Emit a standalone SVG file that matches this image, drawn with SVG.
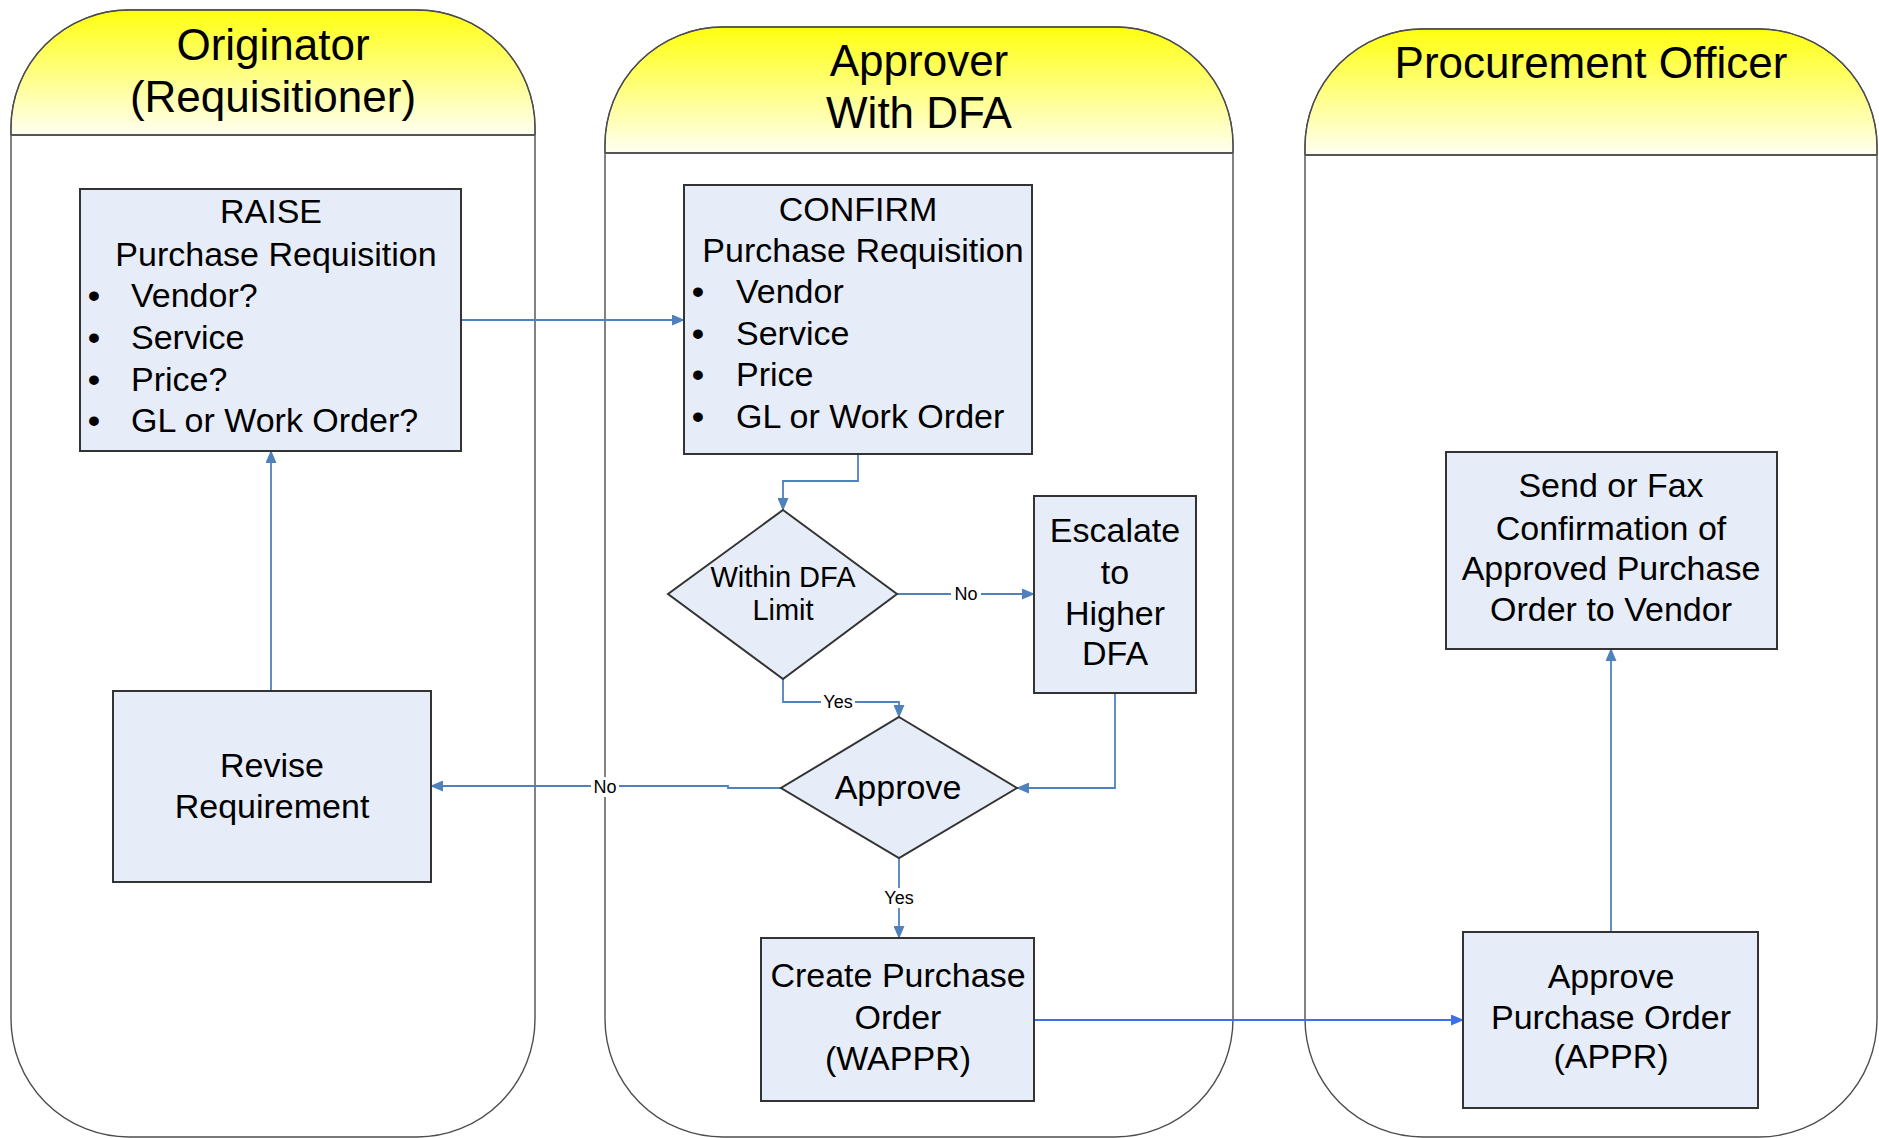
<svg xmlns="http://www.w3.org/2000/svg" width="1879" height="1138" viewBox="0 0 1879 1138">
<defs>
<linearGradient id="hdr" x1="0" y1="0" x2="0" y2="1">
<stop offset="0" stop-color="#FFFF10"/>
<stop offset="1" stop-color="#FFFFF2"/>
</linearGradient>
<marker id="arr" markerUnits="userSpaceOnUse" markerWidth="13" markerHeight="11" refX="12" refY="5.5" orient="auto">
<path d="M0,0 L13,5.5 L0,11 z" fill="#4F81BD"/>
</marker>
<marker id="arr2" markerUnits="userSpaceOnUse" markerWidth="13" markerHeight="11" refX="12" refY="5.5" orient="auto">
<path d="M0,0 L13,5.5 L0,11 z" fill="#3F6FE8"/>
</marker>
<style>
.lane{fill:#FFFFFF;stroke:#4d4d4d;stroke-width:1.4}
.hdr{fill:url(#hdr);stroke:none}
.hline{stroke:#555;stroke-width:2;fill:none}
.box{fill:#E7EDF8;stroke:#333;stroke-width:2}
.t{font-family:"Liberation Sans",Arial,sans-serif;fill:#000}
.ht{font-size:44px;text-anchor:middle}
.bt{font-size:34px}
.c{text-anchor:middle}
.bul{font-weight:bold}
.dt{font-size:29px;text-anchor:middle}
.lbl{font-family:"Liberation Sans",Arial,sans-serif;font-size:18px;text-anchor:middle;fill:#000}
.con{fill:none;stroke:#4F81BD;stroke-width:1.8;marker-end:url(#arr)}
.con2{fill:none;stroke:#3F6FE8;stroke-width:1.8;marker-end:url(#arr2)}
.lbg{fill:#FFFFFF}
</style>
</defs>
<rect width="1879" height="1138" fill="#FFFFFF"/>

<g id="lane-originator">
<path class="lane" d="M11,128 A118,118 0 0 1 129,10 L417,10 A118,118 0 0 1 535,128 L535,1019 A118,118 0 0 1 417,1137 L129,1137 A118,118 0 0 1 11,1019 Z"/>
<path class="hdr" d="M11.7,135 L11.7,128 A117.3,117.3 0 0 1 129,10.7 L417,10.7 A117.3,117.3 0 0 1 534.3,128 L534.3,135 Z"/>
<path class="lane" style="fill:none" d="M11,135 L11,128 A118,118 0 0 1 129,10 L417,10 A118,118 0 0 1 535,128 L535,135"/>
<line class="hline" x1="11" y1="135" x2="535" y2="135"/>
<text class="t ht" x="273" y="60">Originator</text>
<text class="t ht" x="273" y="112">(Requisitioner)</text>
</g>

<g id="lane-approver">
<path class="lane" d="M605,145 A118,118 0 0 1 723,27 L1115,27 A118,118 0 0 1 1233,145 L1233,1019 A118,118 0 0 1 1115,1137 L723,1137 A118,118 0 0 1 605,1019 Z"/>
<path class="hdr" d="M605.7,153 L605.7,145 A117.3,117.3 0 0 1 723,27.7 L1115,27.7 A117.3,117.3 0 0 1 1232.3,145 L1232.3,153 Z"/>
<path class="lane" style="fill:none" d="M605,153 L605,145 A118,118 0 0 1 723,27 L1115,27 A118,118 0 0 1 1233,145 L1233,153"/>
<line class="hline" x1="605" y1="153" x2="1233" y2="153"/>
<text class="t ht" x="919" y="76">Approver</text>
<text class="t ht" x="919" y="128">With DFA</text>
</g>

<g id="lane-procurement">
<path class="lane" d="M1305,147 A118,118 0 0 1 1423,29 L1759,29 A118,118 0 0 1 1877,147 L1877,1019 A118,118 0 0 1 1759,1137 L1423,1137 A118,118 0 0 1 1305,1019 Z"/>
<path class="hdr" d="M1305.7,155 L1305.7,147 A117.3,117.3 0 0 1 1423,29.7 L1759,29.7 A117.3,117.3 0 0 1 1876.3,147 L1876.3,155 Z"/>
<path class="lane" style="fill:none" d="M1305,155 L1305,147 A118,118 0 0 1 1423,29 L1759,29 A118,118 0 0 1 1877,147 L1877,155"/>
<line class="hline" x1="1305" y1="155" x2="1877" y2="155"/>
<text class="t ht" x="1591" y="78">Procurement Officer</text>
</g>

<g id="connectors">
<path class="con" d="M461,320 L684,320"/>
<path class="con" d="M858,454 L858,481 L783,481 L783,510"/>
<path class="con" d="M897,594 L1034,594"/>
<path class="con" d="M783,679 L783,702 L899,702 L899,717"/>
<path class="con" d="M1115,693 L1115,788 L1017,788"/>
<path class="con" d="M781,788 L728,788 L728,786 L431,786"/>
<path class="con" d="M271,691 L271,451"/>
<path class="con" d="M899,858 L899,938"/>
<path class="con2" d="M1034,1020 L1463,1020"/>
<path class="con" d="M1611,932 L1611,649"/>
</g>

<g id="connector-labels">
<rect class="lbg" x="951" y="584" width="30" height="20"/>
<text class="lbl" x="966" y="600">No</text>
<rect class="lbg" x="821" y="692" width="34" height="20"/>
<text class="lbl" x="838" y="708">Yes</text>
<rect class="lbg" x="591" y="777" width="28" height="20"/>
<text class="lbl" x="605" y="793">No</text>
<rect class="lbg" x="882" y="888" width="34" height="20"/>
<text class="lbl" x="899" y="904">Yes</text>
</g>

<g id="node-raise">
<rect class="box" x="80" y="189" width="381" height="262"/>
<text class="t bt c" x="271" y="223">RAISE</text>
<text class="t bt c" x="276" y="266">Purchase Requisition</text>
<text class="t bt" y="307"><tspan class="bul" x="88">•</tspan><tspan x="131">Vendor?</tspan></text>
<text class="t bt" y="349"><tspan class="bul" x="88">•</tspan><tspan x="131">Service</tspan></text>
<text class="t bt" y="391"><tspan class="bul" x="88">•</tspan><tspan x="131">Price?</tspan></text>
<text class="t bt" y="432"><tspan class="bul" x="88">•</tspan><tspan x="131">GL or Work Order?</tspan></text>
</g>

<g id="node-confirm">
<rect class="box" x="684" y="185" width="348" height="269"/>
<text class="t bt c" x="858" y="221">CONFIRM</text>
<text class="t bt c" x="863" y="262">Purchase Requisition</text>
<text class="t bt" y="303"><tspan class="bul" x="692">•</tspan><tspan x="736">Vendor</tspan></text>
<text class="t bt" y="345"><tspan class="bul" x="692">•</tspan><tspan x="736">Service</tspan></text>
<text class="t bt" y="386"><tspan class="bul" x="692">•</tspan><tspan x="736">Price</tspan></text>
<text class="t bt" y="428"><tspan class="bul" x="692">•</tspan><tspan x="736">GL or Work Order</tspan></text>
</g>

<g id="node-within-dfa">
<polygon class="box" points="783,510 897,594 783,679 668,594"/>
<text class="t dt" x="783" y="587">Within DFA</text>
<text class="t dt" x="783" y="620">Limit</text>
</g>

<g id="node-escalate">
<rect class="box" x="1034" y="496" width="162" height="197"/>
<text class="t bt c" x="1115" y="542">Escalate</text>
<text class="t bt c" x="1115" y="584">to</text>
<text class="t bt c" x="1115" y="625">Higher</text>
<text class="t bt c" x="1115" y="665">DFA</text>
</g>

<g id="node-approve">
<polygon class="box" points="899,717 1017,788 899,858 781,788"/>
<text class="t bt c" x="898" y="799">Approve</text>
</g>

<g id="node-revise">
<rect class="box" x="113" y="691" width="318" height="191"/>
<text class="t bt c" x="272" y="777">Revise</text>
<text class="t bt c" x="272" y="818">Requirement</text>
</g>

<g id="node-create-po">
<rect class="box" x="761" y="938" width="273" height="163"/>
<text class="t bt c" x="898" y="987">Create Purchase</text>
<text class="t bt c" x="898" y="1029">Order</text>
<text class="t bt c" x="898" y="1070">(WAPPR)</text>
</g>

<g id="node-approve-po">
<rect class="box" x="1463" y="932" width="295" height="176"/>
<text class="t bt c" x="1611" y="988">Approve</text>
<text class="t bt c" x="1611" y="1029">Purchase Order</text>
<text class="t bt c" x="1611" y="1068">(APPR)</text>
</g>

<g id="node-send-fax">
<rect class="box" x="1446" y="452" width="331" height="197"/>
<text class="t bt c" x="1611" y="497">Send or Fax</text>
<text class="t bt c" x="1611" y="540">Confirmation of</text>
<text class="t bt c" x="1611" y="580">Approved Purchase</text>
<text class="t bt c" x="1611" y="621">Order to Vendor</text>
</g>
</svg>
